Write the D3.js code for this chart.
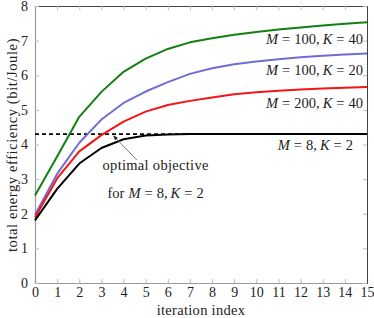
<!DOCTYPE html>
<html>
<head>
<meta charset="utf-8">
<script src="https://cdn.jsdelivr.net/npm/d3@7"></script>
<style>
  body { margin: 0; background: #fff; }
  svg text { font-family: "Liberation Serif", "DejaVu Serif", serif; fill: #222; }
</style>
</head>
<body>
<svg id="chart" width="374" height="318"></svg>
<script>
"use strict";

var iterations = d3.range(0, 16);
var greenValues = [2.53, 3.65, 4.8, 5.52, 6.1, 6.48, 6.76, 6.95, 7.07, 7.17, 7.25, 7.32, 7.38, 7.44, 7.49, 7.53];
var blueValues = [1.97, 3.15, 4.05, 4.72, 5.2, 5.53, 5.8, 6.04, 6.2, 6.32, 6.4, 6.46, 6.52, 6.56, 6.6, 6.63];
var redValues = [1.89, 3.02, 3.8, 4.27, 4.66, 4.95, 5.14, 5.26, 5.36, 5.45, 5.51, 5.55, 5.59, 5.62, 5.64, 5.66];
var blackValues = [1.81, 2.72, 3.45, 3.9, 4.15, 4.26, 4.29, 4.3, 4.3, 4.3, 4.3, 4.3, 4.3, 4.3, 4.3, 4.3];
var optimalValue = 4.3;
var xTicks = d3.range(0, 16);
var yTicks = d3.range(0, 9);

var series = [
  { values: greenValues, color: "#118011", label: ["100", "40"], labelY: 7.05 },
  { values: blueValues, color: "#6d6dd6", label: ["100", "20"], labelY: 6.15 },
  { values: redValues, color: "#f51414", label: ["200", "40"], labelY: 5.2 },
  { values: blackValues, color: "#000", label: ["8", "2"], labelY: 3.98 }
];

var margin = { top: 6, right: 7, bottom: 35, left: 35 };
var svg = d3.select("#chart");
var width = +svg.attr("width") - margin.left - margin.right;
var height = +svg.attr("height") - margin.top - margin.bottom;

var x = d3.scaleLinear().domain([0, 15]).range([0, width]);
var y = d3.scaleLinear().domain([0, 8]).range([height, 0]);

var g = svg.append("g")
  .attr("transform", "translate(" + margin.left + "," + margin.top + ")");

// ticks on all four sides, pointing inward
var bottomAxis = g.append("g")
  .attr("transform", "translate(0," + height + ")")
  .call(d3.axisBottom(x).tickValues(xTicks).tickSize(-4).tickPadding(4));
var topAxis = g.append("g")
  .call(d3.axisTop(x).tickValues(xTicks).tickSize(-4).tickFormat(""));
var leftAxis = g.append("g")
  .call(d3.axisLeft(y).tickValues(yTicks).tickSize(-4).tickPadding(7));
var rightAxis = g.append("g")
  .attr("transform", "translate(" + width + ",0)")
  .call(d3.axisRight(y).tickValues(yTicks).tickSize(-4).tickFormat(""));

[bottomAxis, topAxis, leftAxis, rightAxis].forEach(function (a) {
  a.selectAll(".tick line").attr("stroke", "#bbb");
  a.selectAll(".tick text")
    .style("font-family", "'Liberation Serif', serif")
    .style("font-size", "14px")
    .attr("fill", "#222");
});
bottomAxis.select(".domain").attr("stroke", "#999").attr("stroke-width", 1.2);
leftAxis.select(".domain").attr("stroke", "#999").attr("stroke-width", 1.2);
topAxis.select(".domain").attr("stroke", "#444");
rightAxis.select(".domain").attr("stroke", "#444");

// optimal objective (dashed)
g.append("line")
  .attr("x1", x(0)).attr("x2", x(15))
  .attr("y1", y(optimalValue)).attr("y2", y(optimalValue))
  .attr("stroke", "#000")
  .attr("stroke-width", 1.6)
  .attr("stroke-dasharray", "4,3");

var line = d3.line()
  .x(function (d, i) { return x(iterations[i]); })
  .y(function (d) { return y(d); });

series.forEach(function (s) {
  g.append("path")
    .datum(s.values)
    .attr("fill", "none")
    .attr("stroke", s.color)
    .attr("stroke-width", 2)
    .attr("stroke-linejoin", "round")
    .attr("d", line);
});

// math-style text: M = a, K = b
function mathLabel(t, a, b) {
  t.append("tspan").style("font-style", "italic").text("M");
  t.append("tspan").attr("dx", 4).text("=");
  t.append("tspan").attr("dx", 4).text(a + ",");
  t.append("tspan").attr("dx", 3).style("font-style", "italic").text("K");
  t.append("tspan").attr("dx", 4).text("=");
  t.append("tspan").attr("dx", 4).text(b);
}

// curve labels
series.forEach(function (s, i) {
  var t = g.append("text")
    .attr("x", i === 3 ? width - 14 : width - 4)
    .attr("y", y(s.labelY))
    .attr("text-anchor", "end")
    .attr("dy", "0.35em")
    .style("font-size", "14.5px");
  mathLabel(t, s.label[0], s.label[1]);
});

// annotation
svg.append("defs").append("marker")
  .attr("id", "arrow")
  .attr("viewBox", "0 0 10 10")
  .attr("refX", 9).attr("refY", 5)
  .attr("markerWidth", 5).attr("markerHeight", 5)
  .attr("orient", "auto")
  .append("path")
  .attr("d", "M0,1 L10,5 L0,9 Z")
  .attr("fill", "#222");

g.append("line")
  .attr("x1", x(4.6)).attr("y1", y(3.55))
  .attr("x2", x(3.55)).attr("y2", y(4.25))
  .attr("stroke", "#777")
  .attr("stroke-width", 1)
  .attr("marker-end", "url(#arrow)");

g.append("text")
  .attr("x", x(5.45)).attr("y", y(3.4))
  .attr("text-anchor", "middle")
  .attr("dy", "0.35em")
  .style("font-size", "14.5px")
  .style("letter-spacing", "0.3px")
  .text("optimal objective");

var ann = g.append("text")
  .attr("x", x(5.45)).attr("y", y(2.6))
  .attr("text-anchor", "middle")
  .attr("dy", "0.35em")
  .style("font-size", "14.5px");
ann.append("tspan").text("for");
ann.append("tspan").attr("dx", 4).style("font-style", "italic").text("M");
ann.append("tspan").attr("dx", 4).text("=");
ann.append("tspan").attr("dx", 4).text("8,");
ann.append("tspan").attr("dx", 3).style("font-style", "italic").text("K");
ann.append("tspan").attr("dx", 4).text("=");
ann.append("tspan").attr("dx", 4).text("2");

// axis titles
svg.append("text")
  .attr("x", margin.left + width / 2)
  .attr("y", 315)
  .attr("text-anchor", "middle")
  .style("font-size", "14.5px")
  .style("letter-spacing", "0.3px")
  .text("iteration index");

svg.append("text")
  .attr("transform", "translate(12," + (margin.top + 139) + ") rotate(-90)")
  .attr("text-anchor", "middle")
  .attr("dy", "0.35em")
  .style("font-size", "14.5px")
  .style("letter-spacing", "0.6px")
  .text("total energy efficiency (bit/Joule)");
</script>
</body>
</html>
